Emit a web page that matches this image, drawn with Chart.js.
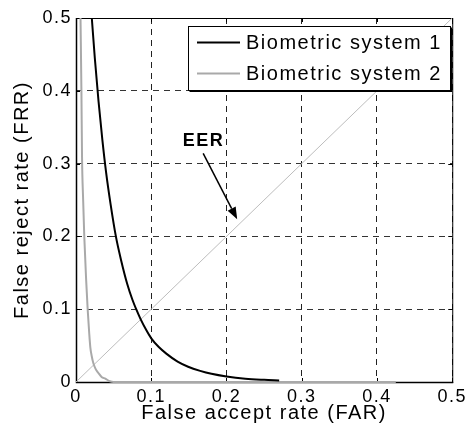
<!DOCTYPE html>
<html>
<head>
<meta charset="utf-8">
<script src="https://cdn.jsdelivr.net/npm/chart.js@4.4.1/dist/chart.umd.min.js"></script>
<style>
  html, body { margin: 0; padding: 0; background: #fff; }
  canvas { display: block; }
</style>
</head>
<body>
<canvas id="detChart" width="471" height="434"></canvas>
<script>
// series (FAR on x, FRR on y)
var seriesLabels = ['Biometric system 1', 'Biometric system 2'];

var far1 = [0.021, 0.025, 0.030, 0.035, 0.040, 0.046, 0.053, 0.060, 0.068, 0.075, 0.080, 0.086, 0.093, 0.100, 0.110, 0.120, 0.135, 0.149, 0.165, 0.180, 0.200, 0.225, 0.250, 0.270];
var frr1 = [0.500, 0.445, 0.385, 0.333, 0.288, 0.244, 0.200, 0.167, 0.135, 0.113, 0.100, 0.086, 0.072, 0.060, 0.048, 0.039, 0.028, 0.021, 0.0153, 0.0112, 0.0075, 0.0045, 0.0030, 0.0022];

var far2 = [0.006, 0.0072, 0.008, 0.0095, 0.011, 0.0135, 0.0155, 0.0175, 0.019, 0.021, 0.023, 0.026, 0.030, 0.034, 0.039, 0.045, 0.050, 0.425];
var frr2 = [0.500, 0.400, 0.310, 0.250, 0.200, 0.140, 0.100, 0.068, 0.048, 0.035, 0.026, 0.018, 0.012, 0.007, 0.0045, 0.001, 0.0, 0.0];

// FAR = FRR reference line
var diagX = [0, 0.5];
var diagY = [0, 0.5];

var axisTicks = [0, 0.1, 0.2, 0.3, 0.4, 0.5];
var eerLabel = 'EER';

function pts(xs, ys) {
  return xs.map(function (x, i) { return { x: x, y: ys[i] }; });
}

var FONT = '"Liberation Sans", Arial, sans-serif';
var SPACING = '1.5px';

var framePlugin = {
  id: 'frame',
  beforeUpdate: function (chart) { chart.ctx.letterSpacing = SPACING; },
  beforeDraw: function (chart) { chart.ctx.letterSpacing = SPACING; },
  beforeDatasetsDraw: function (chart) {
    var ctx = chart.ctx, a = chart.chartArea;
    var xs = chart.scales.x, ys = chart.scales.y;
    ctx.save();
    ctx.strokeStyle = '#000';
    ctx.lineWidth = 1;
    // inward ticks
    ctx.beginPath();
    axisTicks.forEach(function (v) {
      var px = Math.round(xs.getPixelForValue(v)) + 0.5;
      ctx.moveTo(px, a.top); ctx.lineTo(px, a.top + 4);
      ctx.moveTo(px, a.bottom); ctx.lineTo(px, a.bottom - 4);
      var py = Math.round(ys.getPixelForValue(v)) + 0.5;
      ctx.moveTo(a.left, py); ctx.lineTo(a.left + 4, py);
      ctx.moveTo(a.right, py); ctx.lineTo(a.right - 4, py);
    });
    ctx.stroke();
    // box
    ctx.strokeRect(a.left + 0.5, a.top + 0.5, a.right - a.left, a.bottom - a.top);
    ctx.lineWidth = 1.5;
    ctx.beginPath();
    ctx.moveTo(a.left + 0.5, a.top);
    ctx.lineTo(a.left + 0.5, a.bottom + 0.5);
    ctx.lineTo(a.right + 1, a.bottom + 0.5);
    ctx.stroke();
    ctx.restore();
  },
  afterDatasetsDraw: function (chart) {
    var ctx = chart.ctx;
    var xs = chart.scales.x, ys = chart.scales.y;
    ctx.save();
    ctx.letterSpacing = SPACING;

    // EER label and arrow
    var tx = xs.getPixelForValue(0.168), ty = ys.getPixelForValue(0.331);
    ctx.fillStyle = '#000';
    ctx.font = 'bold 18px ' + FONT;
    ctx.textAlign = 'center';
    ctx.textBaseline = 'middle';
    ctx.fillText(eerLabel, tx + 1, ty);

    var x0 = xs.getPixelForValue(0.169), y0 = ys.getPixelForValue(0.314);
    var x1 = xs.getPixelForValue(0.2142), y1 = ys.getPixelForValue(0.2235);
    var ang = Math.atan2(y1 - y0, x1 - x0);
    var hl = 12, hw = 4.5;
    var bx = x1 - hl * Math.cos(ang), by = y1 - hl * Math.sin(ang);
    ctx.strokeStyle = '#000';
    ctx.lineWidth = 1.5;
    ctx.beginPath();
    ctx.moveTo(x0, y0);
    ctx.lineTo(bx, by);
    ctx.stroke();
    ctx.beginPath();
    ctx.moveTo(x1, y1);
    ctx.lineTo(bx + hw * Math.sin(ang), by - hw * Math.cos(ang));
    ctx.lineTo(bx - hw * Math.sin(ang), by + hw * Math.cos(ang));
    ctx.closePath();
    ctx.fill();

    // legend box in the upper right corner
    var L = 188.5, T = 26.5, R = 450.5, B = 90.5;
    ctx.fillStyle = '#fff';
    ctx.fillRect(L, T, R - L, B - T);
    ctx.lineWidth = 1;
    ctx.strokeStyle = '#000';
    ctx.strokeRect(L, T, R - L, B - T);
    ctx.beginPath();
    ctx.moveTo(L + 1, B + 1); ctx.lineTo(R + 1, B + 1); ctx.lineTo(R + 1, T + 1);
    ctx.stroke();

    ctx.font = '20px ' + FONT;
    ctx.textAlign = 'left';
    ctx.textBaseline = 'middle';
    var rows = [42.5, 73.5];
    for (var i = 0; i < 2; i++) {
      var ds = chart.data.datasets[i];
      ctx.strokeStyle = ds.borderColor;
      ctx.lineWidth = ds.borderWidth;
      ctx.beginPath();
      ctx.moveTo(197, rows[i]);
      ctx.lineTo(240, rows[i]);
      ctx.stroke();
      ctx.fillStyle = '#000';
      ctx.fillText(ds.label, 246, rows[i] + 1);
    }
    ctx.restore();
  }
};

var ctx = document.getElementById('detChart').getContext('2d');
var chart = new Chart(ctx, {
  type: 'scatter',
  data: {
    datasets: [{
      label: seriesLabels[0],
      data: pts(far1, frr1),
      showLine: true,
      borderColor: '#000000',
      borderWidth: 2,
      pointRadius: 0,
      cubicInterpolationMode: 'monotone',
      clip: false,
      order: 1
    }, {
      label: seriesLabels[1],
      data: pts(far2, frr2),
      showLine: true,
      borderColor: '#a9a9a9',
      borderWidth: 2,
      pointRadius: 0,
      cubicInterpolationMode: 'monotone',
      clip: false,
      order: 2
    }, {
      label: 'FAR = FRR',
      data: pts(diagX, diagY),
      showLine: true,
      borderColor: '#bdbdbd',
      borderWidth: 1,
      pointRadius: 0,
      order: 3
    }]
  },
  options: {
    responsive: false,
    animation: false,
    layout: { padding: { top: 18, right: 15, left: 0, bottom: 0 } },
    plugins: {
      legend: { display: false },
      tooltip: { enabled: false }
    },
    scales: {
      x: {
        type: 'linear',
        min: 0,
        max: 0.5,
        afterBuildTicks: function (s) { s.ticks = axisTicks.map(function (v) { return { value: v }; }); },
        afterFit: function (s) { s.height = 52; },
        grid: { color: '#222', lineWidth: 1, drawTicks: false },
        border: { display: false, dash: [6, 5] },
        ticks: { color: '#000', padding: 4, maxRotation: 0, font: { family: FONT, size: 18 } },
        title: { display: true, text: 'False accept rate (FAR)', color: '#000', font: { family: FONT, size: 20 }, padding: { top: 0, bottom: 9 } }
      },
      y: {
        type: 'linear',
        min: 0,
        max: 0.5,
        afterBuildTicks: function (s) { s.ticks = axisTicks.map(function (v) { return { value: v }; }); },
        afterFit: function (s) { s.width = 76; },
        grid: { color: '#333', lineWidth: 1, drawTicks: false },
        border: { display: false, dash: [6, 5] },
        ticks: { color: '#000', padding: 4, font: { family: FONT, size: 18 } },
        title: { display: true, text: 'False reject rate (FRR)', color: '#000', font: { family: FONT, size: 20 }, padding: { top: 10, bottom: 0 } }
      }
    }
  },
  plugins: [framePlugin]
});
</script>
</body>
</html>
